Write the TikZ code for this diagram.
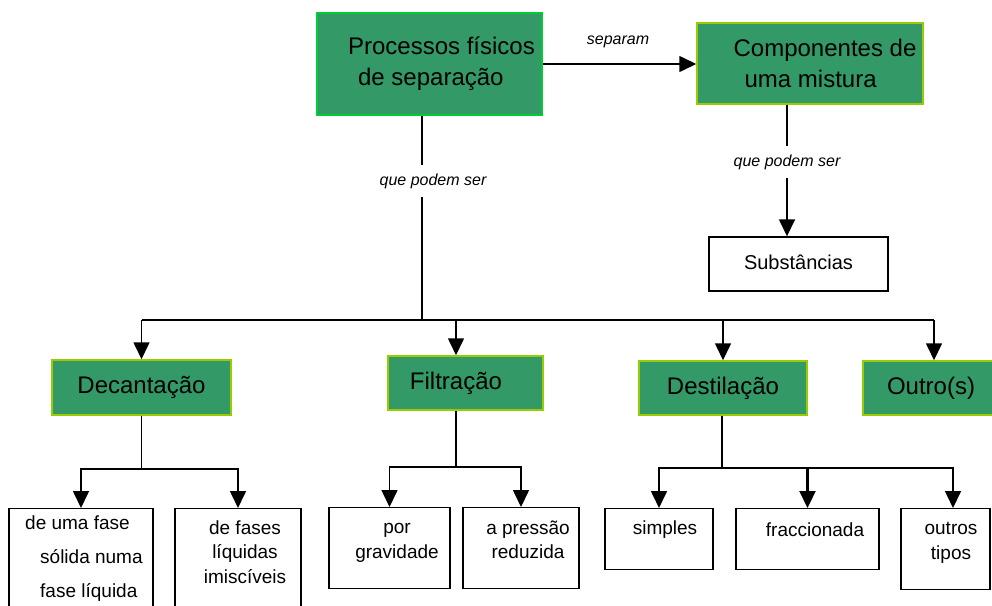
\documentclass[tikz,border=0pt]{standalone}
\usepackage{fontspec}
\setmainfont{Liberation Sans}
\usetikzlibrary{arrows.meta}
\definecolor{gfill}{HTML}{339966}
\definecolor{gbord}{HTML}{00CC33}
\definecolor{ybord}{HTML}{99CC00}
\begin{document}
\begin{tikzpicture}[x=1pt,y=-1pt,
 gbox/.style={draw=ybord, line width=1.5pt, fill=gfill, inner sep=0pt, align=center, font=\fontsize{24}{31}\selectfont},
 wbox/.style={draw=black, line width=1.4pt, fill=white, inner sep=0pt, font=\fontsize{20}{24}\selectfont},
 wtxt/.style={align=center, font=\fontsize{19}{24.5}\selectfont, inner sep=0pt},
 lbl/.style={font=\itshape\fontsize{16}{19}\selectfont, fill=white, inner xsep=2pt, inner ysep=9pt},
 arr/.style={line width=1.6pt, -{Triangle[length=17pt,width=16pt]}},
 stem/.style={line width=1.1pt},
 bus/.style={line width=1.6pt}]
\useasboundingbox[fill=white] (0,0) rectangle (992,605);

% top level
\node[gbox, draw=gbord, line width=2pt, minimum width=225pt, minimum height=102pt, align=left] (proc) at (429.5,64) {\hspace*{24pt}Processos físicos\\\hspace*{34pt}de separação};
\node[gbox, minimum width=226pt, minimum height=81pt, align=left] (comp) at (810,63.5) {\hspace*{30pt}Componentes de\\\hspace*{41pt}uma mistura};
\node[wbox, minimum width=179pt, minimum height=54pt] (subst) at (798.5,264) {\raisebox{4pt}{Substâncias}};

% second level
\node[gbox, minimum width=179pt, minimum height=55pt] (dec) at (141.5,387.5) {Decantação};
\node[gbox, minimum width=155pt, minimum height=54pt] (fil) at (465.5,383) {Filtração\hspace*{19pt}};
\node[gbox, minimum width=168pt, minimum height=54pt] (des) at (723,388) {Destilação};
\node[gbox, minimum width=142pt, minimum height=54pt] (out) at (934,388) {Outro(s)\hspace*{6pt}};

% third level boxes
\node[wbox, minimum width=144pt, minimum height=112pt, anchor=north] (s1) at (81,508) {};
\node[wbox, minimum width=126pt, minimum height=112pt, anchor=north] (s2) at (238,508) {};
\node[wbox, minimum width=121pt, minimum height=81pt, anchor=north] (s3) at (389.5,507) {};
\node[wbox, minimum width=116pt, minimum height=81pt, anchor=north] (s4) at (521,507) {};
\node[wbox, minimum width=108pt, minimum height=61pt, anchor=north] (s5) at (659,508) {};
\node[wbox, minimum width=143pt, minimum height=61pt, anchor=north] (s6) at (807.5,508) {};
\node[wbox, minimum width=89pt, minimum height=81pt, anchor=north] (s7) at (945.5,508) {};

% third level texts
\node[wtxt, align=left, anchor=west, font=\fontsize{19}{34}\selectfont] (s1t) at (25,559) {de uma fase\\\hspace*{15pt}sólida numa\\\hspace*{15pt}fase líquida};
\node[wtxt] (s2t) at (245,552) {de fases\\líquidas\\imiscíveis};
\node[wtxt] (s3t) at (397,543) {por\\gravidade};
\node[wtxt] (s4t) at (528,540) {a pressão\\reduzida};
\node[wtxt] (s5t) at (665,530) {simples};
\node[wtxt] (s6t) at (815,530) {fraccionada};
\node[wtxt] (s7t) at (951,543) {outros\\tipos};

% connectors top
\draw[arr] (proc.east) -- (proc.east -| comp.west);
\node[font=\itshape\fontsize{16}{19}\selectfont] (lsep) at (618,42) {separam};

\coordinate (cx) at (787,0);
\draw[arr] (comp.south -| cx) -- (subst.north -| cx);
\node[lbl] (lq2) at (787,162) {que podem ser};

\coordinate (b0) at (422,320);
\draw[bus] (proc.south -| b0) -- (b0);
\node[lbl] (lq1) at (433,181) {que podem ser};
\draw[bus] (dec.north |- b0) -- (out.north |- b0);
\draw[arr] (dec.north |- b0) -- (dec.north);
\coordinate (fx) at (456,320);
\draw[arr] (fx) -- (fil.north -| fx);
\draw[arr] (des.north |- b0) -- (des.north);
\draw[arr] (out.north |- b0) -- (out.north);

% Decantação branch
\coordinate (d0) at (141.5,469);
\draw[stem] (dec.south) -- (d0);
\draw[arr] (d0) -| (s1.north);
\draw[arr] (d0) -| (s2.north);

% Filtração branch
\coordinate (f0) at (456,467);
\draw[stem] (fil.south -| f0) -- (f0);
\draw[arr] (f0) -| (s3.north);
\draw[arr] (f0) -| (s4.north);

% Destilação branch
\coordinate (e0) at (722,468);
\coordinate (tx) at (953,0);
\draw[stem] (des.south -| e0) -- (e0);
\draw[arr] (e0) -| (s5.north);
\draw[arr, line width=2.2pt] (e0) -| (s6.north);
\draw[arr] (e0) -| (s7.north -| tx);
\end{tikzpicture}
\end{document}
